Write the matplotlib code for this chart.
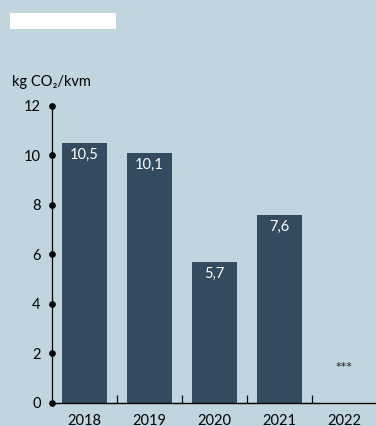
import numpy as np
import matplotlib
matplotlib.use("Agg")
import matplotlib.pyplot as plt
from matplotlib.patches import Rectangle

# CO2 per square metre, by year (2022 not yet reported)
years = ["2018", "2019", "2020", "2021", "2022"]
values = [10.5, 10.1, 5.7, 7.6, None]
labels = ["10,5", "10,1", "5,7", "7,6", None]
yticks = [0, 2, 4, 6, 8, 10, 12]

bg = "#c1d5de"
bar_col = "#344a5f"

plt.rcParams['font.family'] = ['Lato', 'DejaVu Sans']

fig = plt.figure(figsize=(3.76, 4.26), dpi=100, facecolor=bg)
ax = fig.add_axes([0.138, 0.0547, 0.864, 0.6972])
ax.set_facecolor(bg)

x = np.arange(len(years))
for xi, v, lab in zip(x, values, labels):
    if v is None:
        ax.text(xi, 1.45, "***", ha="center", va="center", fontsize=8,
                family="DejaVu Sans", color="#222222")
        continue
    ax.bar(xi, v, width=0.69, color=bar_col, zorder=2)
    ax.annotate(lab, (xi, v), xytext=(0, -12), textcoords="offset pixels",
                ha="center", va="center", color="white", fontsize=10.5)

ax.set_xlim(-0.5, len(years) - 0.5)
ax.set_ylim(0, 12)

for s in ["top", "right"]:
    ax.spines[s].set_visible(False)
ax.spines["left"].set_linewidth(0.9)
ax.spines["bottom"].set_linewidth(1.0)

# year labels centred, short upward ticks between categories
ax.set_xticks(x)
ax.set_xticklabels(years, fontsize=10.5)
ax.tick_params(axis="x", which="major", length=0, pad=8)
ax.set_xticks(x[:-1] + 0.5, minor=True)
ax.tick_params(axis="x", which="minor", direction="in", length=6, width=0.9)

# round dots as y ticks
ax.set_yticks(yticks)
ax.set_yticklabels([str(t) for t in yticks], fontsize=10.5)
ax.tick_params(axis="y", length=0, pad=8)
for t in ax.yaxis.get_major_ticks():
    t.tick1line.set_marker("o")
    t.tick1line.set_markersize(4)
    t.tick1line.set_markerfacecolor("black")
    t.tick1line.set_markeredgecolor("black")
    t.tick1line.set_clip_on(False)

fig.text(12 / 376, 1 - 82 / 426, "kg CO₂/kvm", ha="left", va="center", fontsize=10.5)

# blank title box
fig.patches.append(Rectangle((10 / 376, 1 - 29 / 426), 106 / 376, 16 / 426,
                             transform=fig.transFigure, facecolor="white", edgecolor="none"))

fig.savefig("out.png", dpi=100, facecolor=bg)
